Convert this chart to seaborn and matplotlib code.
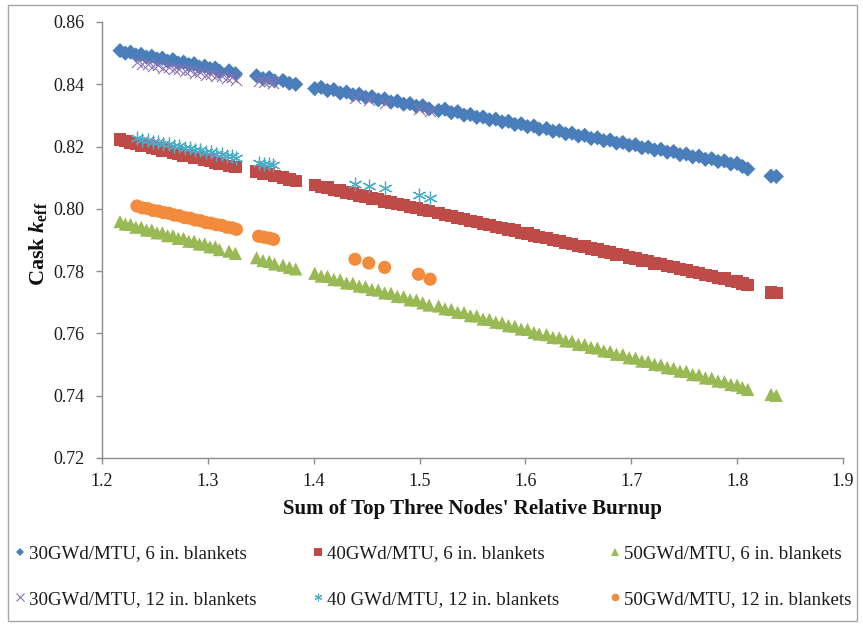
import matplotlib
matplotlib.use("Agg")
import matplotlib.pyplot as plt
from matplotlib.lines import Line2D
from matplotlib.patches import Rectangle
import pandas as pd
import seaborn as sns

# Relative burnup of the top three nodes, 6 in. blanket configurations
x_6in = [1.217, 1.222, 1.227, 1.232, 1.237, 1.242, 1.247, 1.252, 1.257, 1.262,
         1.267, 1.272, 1.277, 1.282, 1.287, 1.292, 1.297, 1.302, 1.307, 1.311,
         1.320, 1.326,
         1.346, 1.352, 1.358, 1.363,
         1.371, 1.377, 1.383,
         1.401, 1.407, 1.413, 1.419, 1.425, 1.431, 1.437, 1.443, 1.449, 1.455,
         1.461, 1.467, 1.473, 1.479, 1.485, 1.491, 1.497, 1.503, 1.509,
         1.518, 1.524, 1.530, 1.536, 1.542, 1.548, 1.554, 1.560, 1.566, 1.572,
         1.578, 1.584, 1.590, 1.596, 1.602, 1.608, 1.613,
         1.620, 1.626, 1.632, 1.638, 1.644, 1.650, 1.656, 1.662, 1.668, 1.674,
         1.680, 1.686, 1.692, 1.698, 1.704, 1.710, 1.716, 1.722, 1.728, 1.734,
         1.740, 1.746, 1.752, 1.758, 1.764, 1.770, 1.776, 1.782, 1.788, 1.794,
         1.800, 1.805, 1.810,
         1.832, 1.837]

k_30_6in = [0.8508, 0.8500, 0.8503, 0.8494, 0.8496, 0.8487, 0.8490, 0.8481, 0.8484, 0.8474,
            0.8479, 0.8468, 0.8471, 0.8463, 0.8466, 0.8455, 0.8458, 0.8450, 0.8452, 0.8442,
            0.8443, 0.8434,
            0.8427, 0.8418, 0.8421, 0.8411,
            0.8412, 0.8403, 0.8400,
            0.8386, 0.8390, 0.8380, 0.8383, 0.8372, 0.8375, 0.8366, 0.8368, 0.8358, 0.8360,
            0.8350, 0.8353, 0.8343, 0.8346, 0.8336, 0.8338, 0.8329, 0.8331, 0.8321,
            0.8316, 0.8320, 0.8309, 0.8312, 0.8301, 0.8303, 0.8294, 0.8295, 0.8286, 0.8288,
            0.8279, 0.8281, 0.8271, 0.8273, 0.8264, 0.8266, 0.8256,
            0.8258, 0.8249, 0.8251, 0.8241, 0.8243, 0.8234, 0.8236, 0.8226, 0.8228, 0.8219,
            0.8221, 0.8211, 0.8213, 0.8204, 0.8206, 0.8196, 0.8198, 0.8189, 0.8191, 0.8182,
            0.8184, 0.8174, 0.8176, 0.8167, 0.8169, 0.8159, 0.8161, 0.8152, 0.8154, 0.8144,
            0.8146, 0.8136, 0.8128,
            0.8105, 0.8104]

k_40_6in = [0.8222, 0.8217, 0.8211, 0.8209, 0.8203, 0.8202, 0.8195, 0.8194, 0.8187, 0.8186,
            0.8179, 0.8178, 0.8171, 0.8170, 0.8163, 0.8163, 0.8156, 0.8155, 0.8148, 0.8146,
            0.8138, 0.8134,
            0.8120, 0.8114, 0.8111, 0.8105,
            0.8101, 0.8094, 0.8090,
            0.8077, 0.8071, 0.8068, 0.8061, 0.8059, 0.8052, 0.8049, 0.8043, 0.8040, 0.8033,
            0.8031, 0.8024, 0.8021, 0.8015, 0.8012, 0.8005, 0.8003, 0.7996, 0.7993,
            0.7986, 0.7980, 0.7977, 0.7970, 0.7968, 0.7961, 0.7958, 0.7951, 0.7949, 0.7942,
            0.7939, 0.7933, 0.7930, 0.7923, 0.7921, 0.7914, 0.7910,
            0.7907, 0.7900, 0.7897, 0.7891, 0.7888, 0.7881, 0.7879, 0.7872, 0.7869, 0.7863,
            0.7860, 0.7853, 0.7851, 0.7844, 0.7841, 0.7834, 0.7832, 0.7825, 0.7822, 0.7816,
            0.7813, 0.7806, 0.7804, 0.7797, 0.7794, 0.7788, 0.7785, 0.7778, 0.7776, 0.7769,
            0.7766, 0.7760, 0.7755,
            0.7731, 0.7730]

k_50_6in = [0.7959, 0.7951, 0.7950, 0.7941, 0.7941, 0.7932, 0.7932, 0.7923, 0.7923, 0.7914,
            0.7914, 0.7905, 0.7905, 0.7896, 0.7896, 0.7887, 0.7887, 0.7878, 0.7878, 0.7869,
            0.7864, 0.7857,
            0.7843, 0.7834, 0.7831, 0.7823,
            0.7819, 0.7812, 0.7807,
            0.7793, 0.7784, 0.7783, 0.7773, 0.7772, 0.7762, 0.7761, 0.7752, 0.7750, 0.7741,
            0.7739, 0.7730, 0.7729, 0.7719, 0.7718, 0.7708, 0.7707, 0.7698, 0.7691,
            0.7688, 0.7679, 0.7677, 0.7668, 0.7667, 0.7657, 0.7656, 0.7646, 0.7645, 0.7636,
            0.7634, 0.7625, 0.7623, 0.7614, 0.7613, 0.7603, 0.7598,
            0.7596, 0.7587, 0.7586, 0.7576, 0.7575, 0.7565, 0.7564, 0.7555, 0.7553, 0.7544,
            0.7542, 0.7533, 0.7532, 0.7522, 0.7521, 0.7511, 0.7510, 0.7501, 0.7499, 0.7490,
            0.7488, 0.7479, 0.7478, 0.7468, 0.7467, 0.7457, 0.7456, 0.7447, 0.7445, 0.7436,
            0.7434, 0.7426, 0.7420,
            0.7404, 0.7401]

# Relative burnup of the top three nodes, 12 in. blanket configurations
x_12in = [1.233, 1.238, 1.243, 1.248, 1.253, 1.258, 1.263, 1.268, 1.273, 1.278,
          1.283, 1.288, 1.293, 1.298, 1.303, 1.308, 1.313, 1.318, 1.323, 1.327,
          1.348, 1.353, 1.358, 1.362,
          1.439, 1.452, 1.467, 1.499, 1.510]

k_30_12in = [0.8472, 0.8464, 0.8466, 0.8459, 0.8461, 0.8453, 0.8456, 0.8448, 0.8450, 0.8442,
             0.8445, 0.8437, 0.8439, 0.8431, 0.8434, 0.8426, 0.8428, 0.8420, 0.8423, 0.8415,
             0.8411, 0.8407, 0.8409, 0.8404,
             0.8355, 0.8348, 0.8340, 0.8322, 0.8315]

k_40_12in = [0.8228, 0.8221, 0.8222, 0.8214, 0.8215, 0.8208, 0.8209, 0.8201, 0.8202, 0.8195,
             0.8196, 0.8188, 0.8189, 0.8182, 0.8183, 0.8175, 0.8176, 0.8169, 0.8170, 0.8163,
             0.8147, 0.8143, 0.8145, 0.8140,
             0.8080, 0.8072, 0.8066, 0.8043, 0.8034]

k_50_12in = [0.8009, 0.8003, 0.8001, 0.7995, 0.7993, 0.7988, 0.7986, 0.7980, 0.7978, 0.7972,
             0.7970, 0.7964, 0.7962, 0.7956, 0.7954, 0.7949, 0.7947, 0.7941, 0.7939, 0.7934,
             0.7912, 0.7909, 0.7906, 0.7902,
             0.7838, 0.7826, 0.7812, 0.7790, 0.7774]

series_labels = ["30GWd/MTU, 6 in. blankets", "40GWd/MTU, 6 in. blankets",
                 "50GWd/MTU, 6 in. blankets", "30GWd/MTU, 12 in. blankets",
                 "40 GWd/MTU, 12 in. blankets", "50GWd/MTU, 12 in. blankets"]

x_ticks = [1.2, 1.3, 1.4, 1.5, 1.6, 1.7, 1.8, 1.9]
y_ticks = [0.72, 0.74, 0.76, 0.78, 0.80, 0.82, 0.84, 0.86]

sns.set_theme(style="white")
plt.rcParams["font.family"] = ["Liberation Serif", "DejaVu Serif"]
plt.rcParams["mathtext.fontset"] = "custom"
plt.rcParams["mathtext.rm"] = "Liberation Serif:bold"
plt.rcParams["mathtext.it"] = "Liberation Serif:italic:bold"
plt.rcParams["mathtext.bf"] = "Liberation Serif:bold"

fig = plt.figure(figsize=(8.63, 6.26), dpi=100)
ax = fig.add_axes([0.1182, 0.2684, 0.8586, 0.6965])

# (x, y, label, marker, colour, size, edge width, filled)
styles = [
    (x_6in, k_30_6in, series_labels[0], "D", "#4A7EBB", 60, 0, True),
    (x_6in, k_40_6in, series_labels[1], "s", "#BE4B48", 80, 0, True),
    (x_6in, k_50_6in, series_labels[2], "^", "#98B954", 90, 0, True),
    (x_12in, k_30_12in, series_labels[3], "x", "#8D71B0", 64, 0.8, False),
    (x_12in, k_40_12in, series_labels[4], (6, 2, 0), "#4BACC6", 85, 0.9, False),
    (x_12in, k_50_12in, series_labels[5], "o", "#F28C3C", 90, 0, True),
]

for xs, ys, lab, mk, col, sz, lw, filled in styles:
    df = pd.DataFrame({"burnup": xs, "keff": ys})
    if filled:
        sns.scatterplot(data=df, x="burnup", y="keff", ax=ax, marker=mk,
                        color=col, s=sz, linewidth=0, edgecolor="none")
    else:
        sns.scatterplot(data=df, x="burnup", y="keff", ax=ax, marker=mk,
                        color=col, s=sz, linewidth=lw)

ax.set_xlim(1.2, 1.9)
ax.set_ylim(0.72, 0.86)
ax.set_xticks(x_ticks)
ax.set_yticks(y_ticks)
ax.set_xticklabels([f"{v:.1f}" for v in x_ticks])
ax.set_yticklabels([f"{v:.2f}" for v in y_ticks])

axis_col = "#8C8C8C"
for side in ("top", "right"):
    ax.spines[side].set_visible(False)
for side in ("left", "bottom"):
    ax.spines[side].set_color(axis_col)
    ax.spines[side].set_linewidth(1.0)
ax.tick_params(axis="both", which="major", direction="out", length=4.5,
               width=1.0, color=axis_col, labelsize=13, labelcolor="#1A1A1A",
               left=True, bottom=True)
ax.tick_params(axis="x", pad=6)
ax.tick_params(axis="y", pad=8)

ax.set_xlabel("Sum of Top Three Nodes' Relative Burnup", fontsize=15,
              fontweight="bold", color="#111111")
ax.set_ylabel(r"Cask $k_{\mathrm{eff}}$", fontsize=16, fontweight="bold",
              color="#111111")
ax.xaxis.set_label_coords(0.5, -0.093)
ax.yaxis.set_label_coords(-0.071, 0.49)

# Legend: three columns, two rows each
legend_cols = [[0, 3], [1, 4], [2, 5]]
col_x = [13, 311, 608]
for cols, x0 in zip(legend_cols, col_x):
    handles = []
    for i in cols:
        _, _, lab, mk, col, sz, lw, filled = styles[i]
        ms = 5.5 if mk != "D" else 4.2
        handles.append(Line2D([], [], linestyle="none", marker=mk, color=col,
                              markersize=ms, markeredgewidth=(0.8 if not filled else 0),
                              label=lab))
    fig.legend(handles=handles, loc="upper left",
               bbox_to_anchor=(x0 / 863, 1 - 545 / 626), frameon=False,
               fontsize=13.6, handlelength=0.7, handletextpad=0.15,
               borderpad=0, borderaxespad=0, labelspacing=1.5,
               labelcolor="#1A1A1A")

# Outer chart border
fig.patches.append(Rectangle((8 / 863, 5 / 626), 849 / 863, 616 / 626,
                             transform=fig.transFigure, fill=False,
                             edgecolor="#A6A6A6", linewidth=1.0))

fig.savefig("out.png", dpi=100)
